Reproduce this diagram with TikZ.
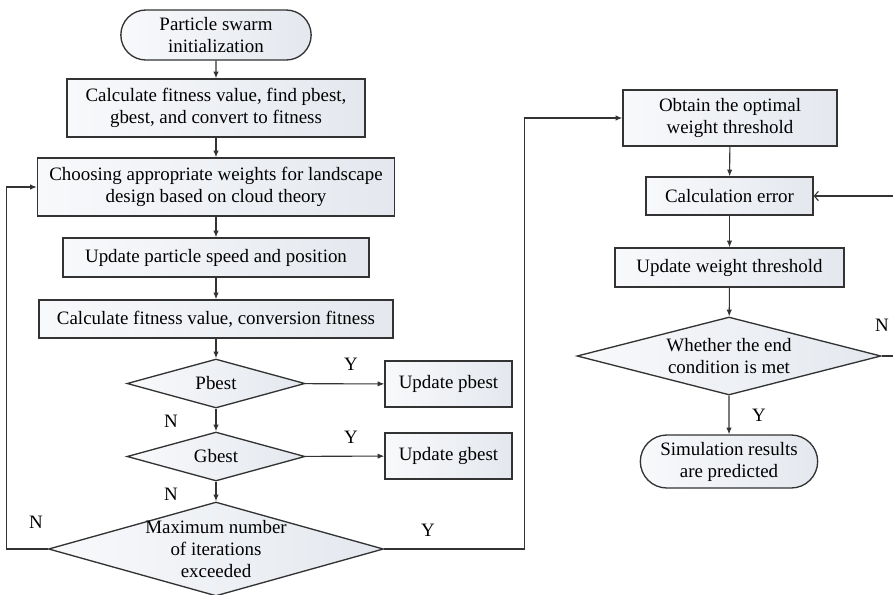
\documentclass[tikz,border=0pt]{standalone}
\usepackage{fontspec}
\setmainfont{Liberation Serif}
\usetikzlibrary{shapes.geometric,shapes.misc,arrows.meta}
\definecolor{linegray}{HTML}{333333}
\definecolor{fillL}{HTML}{F8F9FB}
\definecolor{fillR}{HTML}{E4E8EE}
\tikzset{
  box/.style={draw=linegray,line width=1pt,left color=fillL,right color=fillR,align=center,inner sep=1pt},
  process/.style={box,rectangle},
  terminal/.style={box,rounded rectangle},
  decision/.style={box,diamond,aspect=3.6,inner sep=0pt},
  arr/.style={draw=linegray,line width=0.8pt,-{Latex[length=5pt,width=4pt]}},
  back/.style={draw=linegray,line width=0.8pt,-{Straight Barb[length=3pt,width=7pt]}},
  yn/.style={inner sep=0pt}
}
\begin{document}
\begin{tikzpicture}[x=0.75pt,y=-0.75pt,font=\fontsize{14.2}{16.5}\selectfont]
\useasboundingbox (0,0) rectangle (893,594);
\clip (0,0) rectangle (893,594);

% left column
\node[terminal,minimum width=144.75pt,minimum height=37.5pt] (init) at (216,35) {Particle swarm\\initialization};
\node[process,minimum width=223.5pt,minimum height=43.5pt] (fitA) at (216,108) {Calculate fitness value, find pbest,\\gbest, and convert to fitness};
\node[process,minimum width=267.75pt,minimum height=43.5pt] (cloud) at (216,187) {Choosing appropriate weights for landscape\\design based on cloud theory};
\node[process,minimum width=229.5pt,minimum height=29.25pt] (speed) at (216,257.5) {Update particle speed and position};
\node[process,minimum width=265.5pt,minimum height=28.5pt] (fitB) at (216,319) {Calculate fitness value, conversion fitness};
\node[decision,minimum width=133.5pt,minimum height=36.75pt] (pbest) at (216,383.5) {Pbest};
\node[decision,minimum width=133.5pt,minimum height=36.75pt] (gbest) at (216,456.5) {Gbest};
\node[decision,minimum width=251.25pt,minimum height=70.5pt,inner sep=-5pt] (maxit) at (216,549) {Maximum number\\of iterations\\exceeded};
\node[process,minimum width=95.25pt,minimum height=34.5pt] (upP) at (448.5,384) {Update pbest};
\node[process,minimum width=95.25pt,minimum height=34.5pt] (upG) at (448.5,456) {Update gbest};

% right column
\node[process,minimum width=160.5pt,minimum height=42pt] (optim) at (730,118) {Obtain the optimal\\weight threshold};
\node[process,minimum width=125.25pt,minimum height=28.5pt] (calcerr) at (729.5,196) {Calculation error};
\node[process,minimum width=171.75pt,minimum height=29.25pt] (updW) at (729.5,267.5) {Update weight threshold};
\node[decision,minimum width=228pt,minimum height=58.5pt,aspect=3.9] (endc) at (729,356) {Whether the end\\condition is met};
\node[terminal,minimum width=135pt,minimum height=39.75pt] (sim) at (729,461.5) {Simulation results\\are predicted};

% connectors
\draw[arr] (init) -- (fitA);
\draw[arr] (fitA) -- (cloud);
\draw[arr] (cloud) -- (speed);
\draw[arr] (speed) -- (fitB);
\draw[arr] (fitB) -- (pbest);
\draw[arr] (pbest) -- (gbest);
\draw[arr] (gbest) -- (maxit);
\draw[arr] (pbest) -- (upP);
\draw[arr] (gbest) -- (upG);
\draw[arr] (maxit.west) -- ++(-41,0) |- (cloud.west);
\draw[arr] (maxit.east) -- ++(140,0) |- (optim.west);
\draw[arr] (optim) -- (calcerr);
\draw[arr] (calcerr) -- (updW);
\draw[arr] (updW) -- (endc);
\draw[arr] (endc) -- (sim);
\draw[back] (endc.east) -- ++(30,0) |- (calcerr.east);

% Y/N labels
\node[yn] (yP) at (351,364) {Y};
\node[yn] (yG) at (351,437) {Y};
\node[yn] (nP) at (171,421) {N};
\node[yn] (nG) at (171,494) {N};
\node[yn] (nM) at (36,522) {N};
\node[yn] (yM) at (428,530) {Y};
\node[yn] (nE) at (882,325) {N};
\node[yn] (yE) at (759,415) {Y};
\end{tikzpicture}
\end{document}
